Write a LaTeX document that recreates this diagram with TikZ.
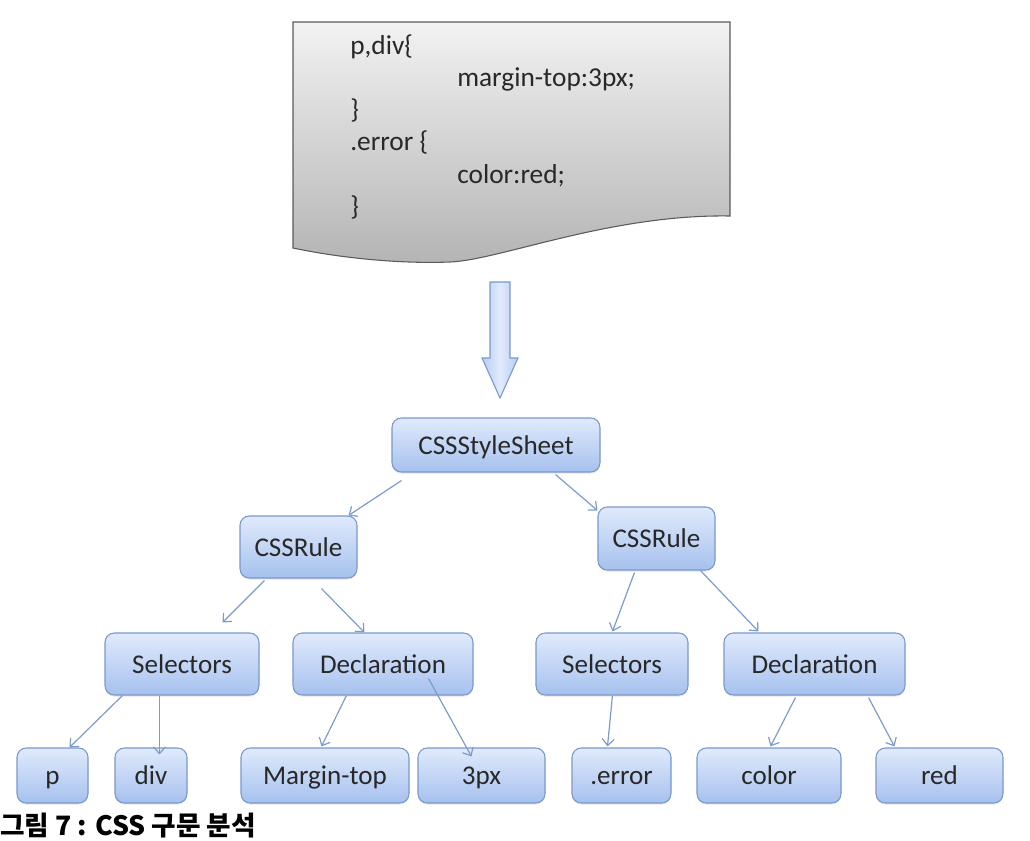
\documentclass[tikz,border=0pt]{standalone}
\usepackage{fontspec}
\setmainfont{Carlito}
\newfontfamily\krfont{Noto Sans CJK KR}
\usetikzlibrary{arrows.meta,shadows,calc}
\definecolor{boxtop}{RGB}{224,234,252}
\definecolor{boxbot}{RGB}{166,193,238}
\definecolor{boxline}{RGB}{122,152,204}
\definecolor{connc}{RGB}{125,155,205}
\definecolor{txt}{RGB}{40,40,40}
\definecolor{doctop}{RGB}{242,242,242}
\definecolor{docbot}{RGB}{180,180,180}
\definecolor{docline}{RGB}{90,90,90}
\begin{document}
\begin{tikzpicture}[x=0.75pt,y=-0.75pt,
  box/.style={draw=boxline, line width=0.8pt, rounded corners=7pt,
    top color=boxtop, bottom color=boxbot, inner sep=0pt, text=txt,
    text height=17pt, text depth=3.5pt,
    font=\fontsize{20.3}{24}\selectfont,
    drop shadow={shadow xshift=0pt, shadow yshift=-1.2pt, opacity=0.2}},
  bw/.style={minimum width=#1*0.75pt},
  bh/.style={minimum height=#1*0.75pt},
  link/.style={draw=connc, line width=0.9pt, -{Straight Barb[length=5pt,width=9pt]}},
  code/.style={anchor=west, text=txt, font=\fontsize{20.5}{24}\selectfont,
    inner sep=0pt, text height=14pt, text depth=4pt}
]
\useasboundingbox (0,0) rectangle (1030,840);

% document shape
\draw[docline, line width=0.8pt, top color=doctop, bottom color=docbot]
  (293,22) -- (730,22) -- (730,216)
  .. controls (610,214) and (500,260) .. (450,262)
  .. controls (400,264) and (340,258) .. (293,248) -- cycle;

\node[code] (c1) at (350,48) {p,div\{};
\node[code] (c2) at (457,80) {margin-top:3px;};
\node[code] (c3) at (350,112) {\}};
\node[code] (c4) at (350,144) {.error \{};
\node[code] (c5) at (457,177) {color:red;};
\node[code] (c6) at (350,209) {\}};

% big arrow
\draw[boxline, line width=0.8pt, left color=boxbot!80, right color=boxbot!80, middle color=boxtop]
  (490,282) -- (510,282) -- (510,358) -- (518,358) -- (500,398) -- (482,358) -- (490,358) -- cycle;

% nodes
\node[box, bw=208, bh=54] (ss) at (496,445) {CSSStyleSheet};
\node[box, bw=117, bh=62] (r1) at (298.5,547) {CSSRule};
\node[box, bw=117, bh=63] (r2) at (656.5,538.5) {CSSRule};
\node[box, bw=154, bh=62] (s1) at (182,664) {Selectors};
\node[box, bw=180, bh=62] (d1) at (383,664) {Declaration};
\node[box, bw=152, bh=62] (s2) at (612,664) {Selectors};
\node[box, bw=181, bh=62] (d2) at (814.5,664) {Declaration};
\node[box, bw=71, bh=55] (p) at (52.5,775.5) {p};
\node[box, bw=72, bh=55] (dv) at (151,775.5) {div};
\node[box, bw=168, bh=55] (mt) at (325,775.5) {Margin-top};
\node[box, bw=127, bh=55] (px) at (481.5,775.5) {3px};
\node[box, bw=99, bh=55] (er) at (621.5,775.5) {.error};
\node[box, bw=144, bh=55] (co) at (769,775.5) {color};
\node[box, bw=127, bh=55] (rd) at (939.5,775.5) {red};

% connectors
\draw[link] ($(ss.south west)+(10,8)$) -- ($(r1.north east)+(-9,0)$);
\draw[link] ($(ss.south east)+(-45,2)$) -- ($(r2.north west)+(0,4)$);
\draw[link] ($(r1.south west)+(25,2)$) -- ($(s1.north west)+(118,-10)$);
\draw[link] ($(r1.south west)+(82,10)$) -- ($(d1.north west)+(72,0)$);
\draw[link] ($(r2.south west)+(37,2)$) -- ($(s2.north west)+(77,-1)$);
\draw[link] ($(r2.south east)+(-15,0)$) -- ($(d2.north west)+(35,-1)$);
\draw[link] ($(s1.south west)+(18,0)$) -- ($(p.north west)+(53,0)$);
\draw[link] ($(s1.south west)+(55,0)$) -- ($(dv.north west)+(45,7)$);
\draw[link] ($(d1.south west)+(54,0)$) -- ($(mt.north west)+(81,-1)$);
\draw[link] ($(d1.south east)+(-45,-17)$) -- ($(px.north west)+(54,9)$);
\draw[link] ($(s2.south west)+(77,0)$) -- ($(er.north west)+(36,-1)$);
\draw[link] ($(d2.south west)+(72,2)$) -- ($(co.north west)+(74,-1)$);
\draw[link] ($(d2.south east)+(-37,2)$) -- ($(rd.north west)+(19,-1)$);

% caption
\node[anchor=west, inner sep=0pt, font=\krfont\bfseries\fontsize{20}{24}\selectfont, text=black] (cap) at (0,825) {그림 7 : CSS 구문 분석};
\end{tikzpicture}
\end{document}
